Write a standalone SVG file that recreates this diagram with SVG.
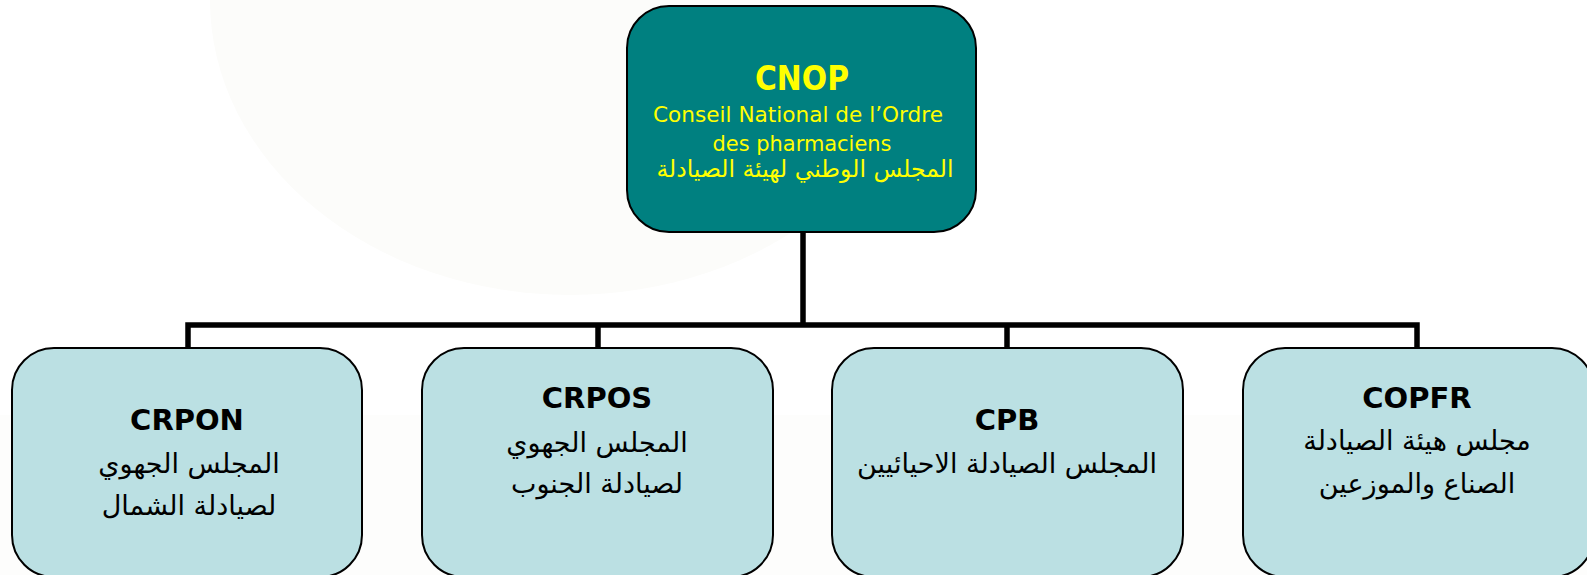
<svg xmlns="http://www.w3.org/2000/svg" width="1587" height="575" viewBox="0 0 1587 575">
<style>
.top{fill:#008080;stroke:#000;stroke-width:2}
.box{fill:#bbe0e3;stroke:#000;stroke-width:2}
.lat{font-family:"DejaVu Sans","Noto Sans",sans-serif;text-anchor:middle}
.ar{font-family:"DejaVu Sans",sans-serif;text-anchor:middle}
.y{fill:#ffff00}
.k{fill:#000}
.ttl{font-weight:bold;font-size:29px}
.arb{font-size:27px}
.conn{fill:none;stroke:#000;stroke-width:5.5;stroke-linejoin:miter;stroke-linecap:square}
</style>
<rect width="1587" height="575" fill="#ffffff"/>
<rect x="0" y="415" width="1587" height="160" fill="#fdfdfc"/>
<ellipse cx="570" cy="0" rx="360" ry="295" fill="#fcfcfa"/>
<g id="connectors">
<path class="conn" d="M803 232 V325 M188 325 H1417 M188 325 V348 M598 325 V348 M1007 325 V348 M1417 325 V348"/>
</g>
<g id="cnop">
<rect class="top" x="627" y="6" width="349" height="226" rx="42" ry="42"/>
<text class="lat y" x="802" y="90" font-size="33" font-weight="bold" textLength="94" lengthAdjust="spacingAndGlyphs">CNOP</text>
<text class="lat y" x="798" y="122" font-size="21" textLength="290" lengthAdjust="spacingAndGlyphs">Conseil National de l’Ordre</text>
<text class="lat y" x="802" y="151" font-size="21" textLength="179" lengthAdjust="spacingAndGlyphs">des pharmaciens</text>
<text class="ar y" x="805" y="177" font-size="23.5">المجلس الوطني لهيئة الصيادلة</text>
</g>
<g id="crpon">
<rect class="box" x="12" y="348" width="350" height="229" rx="42" ry="42"/>
<text class="lat k ttl" x="187" y="430">CRPON</text>
<text class="ar k arb" x="189" y="473">المجلس الجهوي</text>
<text class="ar k arb" x="189" y="515">لصيادلة الشمال</text>
</g>
<g id="crpos">
<rect class="box" x="422" y="348" width="351" height="229" rx="42" ry="42"/>
<text class="lat k ttl" x="597" y="408">CRPOS</text>
<text class="ar k arb" x="597" y="452">المجلس الجهوي</text>
<text class="ar k arb" x="597" y="493">لصيادلة الجنوب</text>
</g>
<g id="cpb">
<rect class="box" x="832" y="348" width="351" height="229" rx="42" ry="42"/>
<text class="lat k ttl" x="1007" y="430">CPB</text>
<text class="ar k arb" x="1007" y="473">المجلس الصيادلة الاحيائيين</text>
</g>
<g id="copfr">
<rect class="box" x="1243" y="348" width="351" height="229" rx="42" ry="42"/>
<text class="lat k ttl" x="1417" y="408">COPFR</text>
<text class="ar k arb" x="1417" y="450">مجلس هيئة الصيادلة</text>
<text class="ar k arb" x="1417" y="493">الصناع والموزعين</text>
</g>
</svg>
